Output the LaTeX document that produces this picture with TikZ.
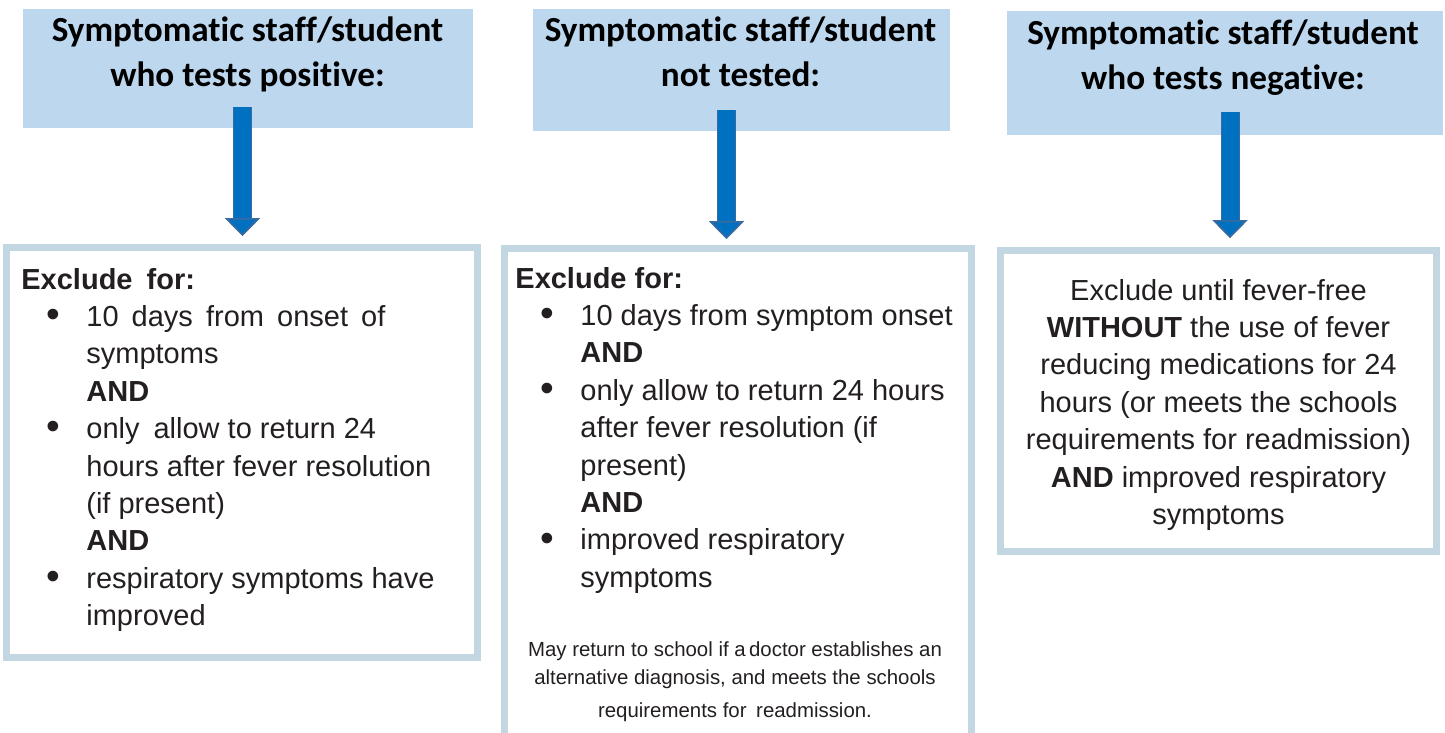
\documentclass[tikz,border=0pt]{standalone}
\usepackage{fontspec}
\usepackage{graphicx}
\setmainfont{Liberation Sans}
\newfontfamily\headfont[Ligatures=NoCommon]{Carlito}
\usetikzlibrary{arrows.meta,calc}

\definecolor{headblue}{HTML}{BDD7EE}
\definecolor{boxedge}{HTML}{C3D7E3}
\definecolor{arrowblue}{HTML}{0070C0}
\definecolor{arrowedge}{HTML}{3A6AA0}
\definecolor{ink}{HTML}{231F20}

\newcommand{\bul}{\makebox[32.5pt][l]{\hspace{12.5pt}\raisebox{-0.6pt}{\scalebox{1.35}{\textbullet}}}}
\newcommand{\ind}{\hspace*{32.5pt}}

\tikzset{
  headbox/.style={fill=headblue, inner sep=0pt},
  bodybox/.style={draw=boxedge, line width=3.5pt, inner sep=0pt},
  headtext/.style={font=\headfont\bfseries\fontsize{17.6}{22.5}\selectfont, inner sep=0pt},
  bodytext/.style={font=\fontsize{14.5}{18.7}\selectfont, text=ink, inner sep=0pt},
  notetext/.style={font=\fontsize{10.2}{14}\selectfont, text=ink, inner sep=0pt},
  blockarrow/.style={draw=arrowblue, line width=8.5pt,
    preaction={draw=arrowedge, line width=9.5pt},
    -{Triangle[width=17.5pt, length=9pt, fill=arrowblue, color=arrowedge, line width=0.8pt]}}
}

\begin{document}
\begin{tikzpicture}[x=0.5pt, y=-0.5pt]
    \useasboundingbox (0,0) rectangle (1445,733);

    % top boxes
    \node[headbox, minimum width=225pt, minimum height=59.5pt] (h1) at (248,68.5) {};
    \node[headbox, minimum width=208.5pt, minimum height=61pt] (h2) at (741.5,70) {};
    \node[headbox, minimum width=218pt, minimum height=62pt] (h3) at (1225,73) {};

    % lower boxes
    \node[bodybox, minimum width=235.5pt, minimum height=205pt] (b1) at (242,452.5) {};
    \node[bodybox, minimum width=233.5pt, minimum height=275.75pt] (b2) at (738,524.25) {};
    \node[bodybox, minimum width=218pt, minimum height=150.5pt] (b3) at (1218.5,401) {};

    \draw[blockarrow] ([xshift=-2.75pt, yshift=10.5pt]h1.south) -- ([xshift=0.25pt, yshift=4pt]b1.north);
    \draw[blockarrow] ([xshift=-7.5pt, yshift=10.5pt]h2.south) -- ([xshift=-5.75pt, yshift=3pt]b2.north);
    \draw[blockarrow] ([xshift=2.5pt, yshift=11.5pt]h3.south) -- ([xshift=5.75pt, yshift=4.5pt]b3.north);

    \node[headtext, anchor=base] (ht1) at (247.5,42) {\begin{tabular}[t]{@{}c@{}}Symptomatic staff/student\\who tests positive:\end{tabular}};
    \node[headtext, anchor=base] (ht2) at (740.5,42) {\begin{tabular}[t]{@{}c@{}}Symptomatic staff/student\\not tested:\end{tabular}};
    \node[headtext, anchor=base] (ht3) at (1223,45) {\begin{tabular}[t]{@{}c@{}}Symptomatic staff/student\\who tests negative:\end{tabular}};

    \node[bodytext, anchor=base west] (bt1) at (21,289) {\begin{tabular}[t]{@{}l@{}}
        \textbf{Exclude\hspace{3pt} for:}\\
        \bul\makebox[149.5pt][s]{10 days from onset of}\\
        \ind symptoms\\
        \ind\textbf{AND}\\
        \bul only\hspace{3pt} allow to return 24\\
        \ind hours after fever resolution\\
        \ind (if present)\\
        \ind\textbf{AND}\\
        \bul respiratory symptoms have\\
        \ind improved
    \end{tabular}};

    \node[bodytext, anchor=base west] (bt2) at (515,288) {\begin{tabular}[t]{@{}l@{}}
        \textbf{Exclude for:}\\
        \bul 10 days from symptom onset\\
        \ind\textbf{AND}\\
        \bul only allow to return 24 hours\\
        \ind after fever resolution (if\\
        \ind present)\\
        \ind\textbf{AND}\\
        \bul improved respiratory\\
        \ind symptoms
    \end{tabular}};

    \node[notetext, anchor=base] (note2) at (735,656) {\begin{tabular}[t]{@{}c@{}}
        May return to school if a\,doctor establishes an\\
        alternative diagnosis, and meets the schools\\[2.5pt]
        requirements for\hspace{2pt} readmission.
    \end{tabular}};

    \node[bodytext, anchor=base] (bt3) at (1218.5,300) {\begin{tabular}[t]{@{}c@{}}
        Exclude until fever-free\\
        \textbf{WITHOUT} the use of fever\\
        reducing medications for 24\\
        hours (or meets the schools\\
        requirements for readmission)\\
        \textbf{AND} improved respiratory\\
        symptoms
    \end{tabular}};
\end{tikzpicture}
\end{document}
